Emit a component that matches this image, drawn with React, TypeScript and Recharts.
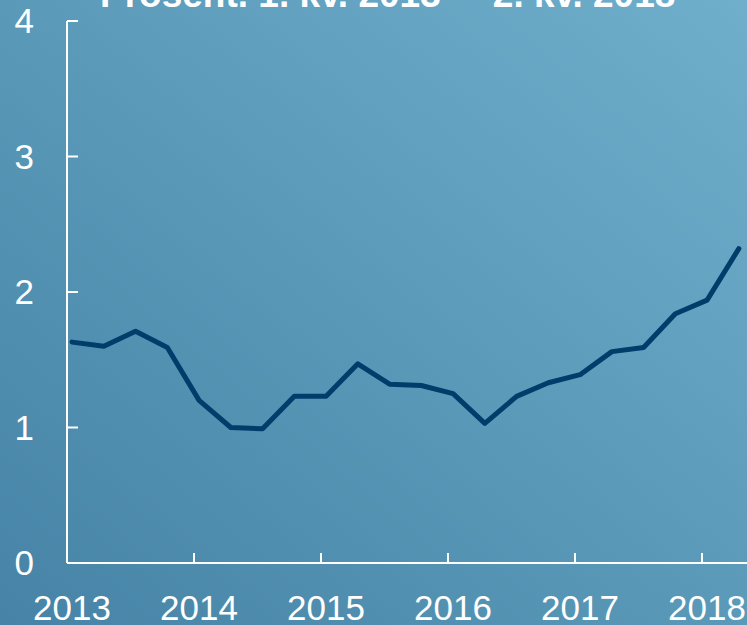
import React from 'react';
import { LineChart, Line, XAxis, YAxis } from 'recharts';

// Kvartaler 1. kv. 2013 – 2. kv. 2018
const quarterYears = [
  2013, 2013, 2013, 2013,
  2014, 2014, 2014, 2014,
  2015, 2015, 2015, 2015,
  2016, 2016, 2016, 2016,
  2017, 2017, 2017, 2017,
  2018, 2018,
];
const quarterNums = [1, 2, 3, 4, 1, 2, 3, 4, 1, 2, 3, 4, 1, 2, 3, 4, 1, 2, 3, 4, 1, 2];
const rate = [
  1.63, 1.6, 1.71, 1.59,
  1.2, 1.0, 0.99, 1.23,
  1.23, 1.47, 1.32, 1.31,
  1.25, 1.03, 1.23, 1.33,
  1.39, 1.56, 1.59, 1.84,
  1.94, 2.32,
];
const yearTicks = [2013, 2014, 2015, 2016, 2017, 2018];
const valueTicks = [0, 1, 2, 3, 4];
const titleStart = 'Prosent. 1. kv. 2013 –';
const titleEnd = ' 2. kv. 2018';

const data = rate.map((v, i) => ({
  t: quarterYears[i] + (quarterNums[i] - 1) / 4 + 0.04,
  v,
}));

const FONT = '"Liberation Sans", Arial, sans-serif';
const AXIS = '#ffffff';

const YTick = (props: any) => {
  const { x, y, payload } = props;
  return (
    <g>
      {payload.value !== 0 && (
        <line x1={x} x2={x + 11} y1={y} y2={y} stroke={AXIS} strokeWidth={2} />
      )}
      <text x={x - 33} y={y + 12} textAnchor="end" fill="#fff" fontSize={35} fontFamily={FONT}>
        {payload.value}
      </text>
    </g>
  );
};

const XTick = (props: any) => {
  const { x, y, payload } = props;
  return (
    <g>
      {payload.value !== 2013 && (
        <line x1={x} x2={x} y1={y} y2={y - 10} stroke={AXIS} strokeWidth={2} />
      )}
      <text x={x + 5} y={y + 57} textAnchor="middle" fill="#fff" fontSize={35} fontFamily={FONT}>
        {payload.value}
      </text>
    </g>
  );
};

export default function App() {
  return (
    <div
      style={{
        position: 'absolute',
        left: 0,
        top: 0,
        width: 747,
        height: 625,
        overflow: 'hidden',
        background: 'linear-gradient(to top right, #4683a6, #6fafcb)',
      }}
    >
      <LineChart width={747} height={625} data={data} margin={{ top: 21, right: 0, left: 0, bottom: 0 }}>
        <XAxis
          type="number"
          dataKey="t"
          domain={[2013, 2013 + 680 / 127]}
          ticks={yearTicks}
          height={62}
          tickSize={0}
          tickMargin={0}
          tickLine={false}
          axisLine={{ stroke: AXIS, strokeWidth: 2 }}
          tick={<XTick />}
          interval={0}
          allowDataOverflow
        />
        <YAxis
          type="number"
          domain={[0, 4]}
          ticks={valueTicks}
          width={67}
          tickSize={0}
          tickMargin={0}
          tickLine={false}
          axisLine={{ stroke: AXIS, strokeWidth: 2 }}
          tick={<YTick />}
          interval={0}
        />
        <Line
          type="linear"
          dataKey="v"
          stroke="#003d6b"
          strokeWidth={5}
          strokeLinejoin="round"
          strokeLinecap="round"
          dot={false}
          activeDot={false}
          isAnimationActive={false}
        />
      </LineChart>
      <svg width={747} height={40} style={{ position: 'absolute', left: 0, top: 0, pointerEvents: 'none' }}>
        <text x={100} y={7} fill="#fff" fontSize={37} fontWeight="bold" fontFamily={FONT}>
          <tspan>{titleStart}</tspan>
          <tspan dx={11}>{titleEnd}</tspan>
        </text>
      </svg>
    </div>
  );
}
